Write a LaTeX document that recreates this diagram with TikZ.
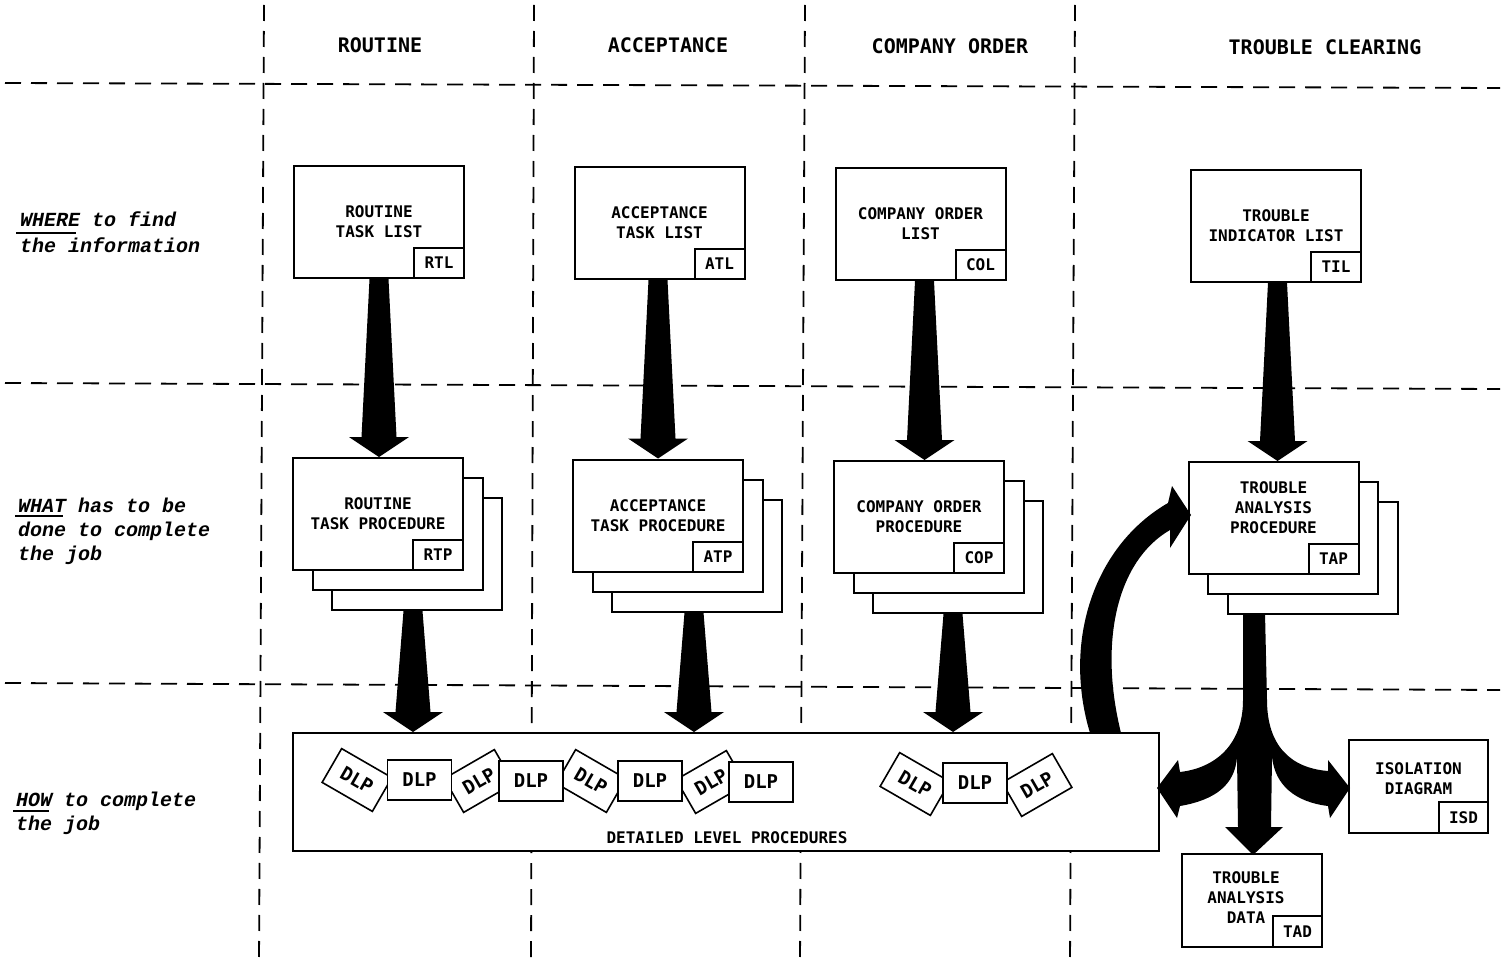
\documentclass[tikz,border=0pt]{standalone}
\usepackage{fontspec}
\setmonofont{DejaVu Sans Mono}
\newfontfamily\sidefont{Liberation Mono}
\usetikzlibrary{calc}
\tikzset{
  box/.style={draw, line width=2pt, fill=white, inner sep=0pt},
  lbl/.style={font=\ttfamily\bfseries\fontsize{16}{20}\selectfont, align=center, inner sep=0pt},
  tagbox/.style={draw, line width=2pt, fill=white, minimum width=50pt, minimum height=30pt, inner sep=0pt, anchor=south east, font=\ttfamily\bfseries\fontsize{16}{20}\selectfont},
  listbox/.style={box, lbl, minimum width=170pt, minimum height=112pt},
  procbox/.style={box, minimum width=170pt, minimum height=112pt},
  colhead/.style={font=\ttfamily\bfseries\fontsize{20}{24}\selectfont, inner sep=0pt},
  side/.style={font=\sidefont\bfseries\itshape\fontsize{20}{24}\selectfont, anchor=base west, inner sep=0pt},
  grid/.style={line width=1.8pt, dash pattern=on 16pt off 10pt},
  dlpbox/.style={draw, line width=1.6pt, fill=white, minimum width=64pt, minimum height=40pt, inner sep=0pt, font=\ttfamily\bfseries\fontsize{19}{22}\selectfont},
  dlptilt/.style={dlpbox, minimum width=58pt, minimum height=39pt},
  uline/.style={line width=2pt},
}
\newcommand\fatarrow[2]{\fill let \p1=#1, \p2=#2 in
  (\x1-9.5pt,\y1) -- (\x1-17.5pt,\y2+20pt) -- (\x1-30pt,\y2+20pt) -- (\x1,\y2) --
  (\x1+30pt,\y2+20pt) -- (\x1+17.5pt,\y2+20pt) -- (\x1+9.5pt,\y1) -- cycle;}
\newcommand\procstack[3]{%
  \node[procbox] (#1c) at (#2+39,#3+40) {};
  \node[procbox] (#1b) at (#2+19.5,#3+20) {};
  \node[procbox] (#1) at (#2,#3) {};}
\begin{document}
\begin{tikzpicture}[x=1pt,y=-1pt]
\useasboundingbox (0,0) rectangle (1504,963);
% grid lines
\draw[grid] (264,5) -- (259,963);
\draw[grid] (534,5) -- (531,963);
\draw[grid] (805,5) -- (800,963);
\draw[grid] (1075,5) -- (1070,963);
\draw[grid] (5,83) -- (1500,88);
\draw[grid] (5,383) -- (1500,389);
\draw[grid] (5,683) -- (1500,690);
% column heads
\node[colhead] (h1) at (380,45) {ROUTINE};
\node[colhead] (h2) at (668,45) {ACCEPTANCE};
\node[colhead] (h3) at (950,46) {COMPANY ORDER};
\node[colhead] (h4) at (1325,47) {TROUBLE CLEARING};
% side labels
\node[side] (w1) at (20,226) {WHERE to find};
\node[side] (w2) at (20,252) {the information};
\draw[uline] (16,233) -- (76,233);
\node[side] (t1) at (18,512) {WHAT has to be};
\node[side] (t2) at (18,536) {done to complete};
\node[side] (t3) at (18,560) {the job};
\draw[uline] (15,516) -- (63,516);
\node[side] (o1) at (16,806) {HOW to complete};
\node[side] (o2) at (16,830) {the job};
\draw[uline] (13,811) -- (49,811);
% list boxes
\node[listbox] (rtl) at (379,222) {ROUTINE\\TASK LIST};
\node[tagbox] at (rtl.south east) {RTL};
\node[listbox] (atl) at (659.5,223) {ACCEPTANCE\\TASK LIST};
\node[tagbox] at (atl.south east) {ATL};
\node[listbox] (col) at (920.5,224) {COMPANY ORDER\\LIST};
\node[tagbox] at (col.south east) {COL};
\node[listbox] (til) at (1276,225.5) {TROUBLE\\INDICATOR LIST};
\node[tagbox] at (til.south east) {TIL};
% procedure stacks
\procstack{rtp}{378}{514}
\node[lbl] at (rtp.center) {ROUTINE\\TASK PROCEDURE};
\node[tagbox] at (rtp.south east) {RTP};
\procstack{atp}{658}{515.5}
\node[lbl] at (atp.center) {ACCEPTANCE\\TASK PROCEDURE};
\node[tagbox] at (atp.south east) {ATP};
\procstack{cop}{919}{517}
\node[lbl] at (cop.center) {COMPANY ORDER\\PROCEDURE};
\node[tagbox] at (cop.south east) {COP};
\procstack{tap}{1273.5}{518}
\node[lbl] at ($(tap.center)+(0,-10)$) {TROUBLE\\ANALYSIS\\PROCEDURE};
\node[tagbox] at (tap.south east) {TAP};
% detailed level procedures
\node[box, minimum width=866pt, minimum height=118pt] (dlp) at (726,792) {};
\node[lbl] (dlplbl) at (727,838) {DETAILED LEVEL PROCEDURES};
\node[dlptilt, rotate=-30] (d1) at (357,780) {DLP};
\node[dlptilt, rotate=30] (d3) at (479,781) {DLP};
\node[dlptilt, rotate=-30] (d5) at (591,781) {DLP};
\node[dlptilt, rotate=30] (d7) at (711,782) {DLP};
\node[dlptilt, rotate=-30] (d9) at (915,784) {DLP};
\node[dlptilt, rotate=30] (d11) at (1037,785) {DLP};
\node[dlpbox] (d2) at (419.5,780) {DLP};
\node[dlpbox] (d4) at (531,781) {DLP};
\node[dlpbox] (d6) at (650,781) {DLP};
\node[dlpbox] (d8) at (761,782) {DLP};
\node[dlpbox] (d10) at (975,783) {DLP};
% isolation diagram, trouble analysis data
\node[box, minimum width=139pt, minimum height=93pt] (isd) at (1418.5,786.5) {};
\node[lbl] at ($(isd.center)+(0,-8)$) {ISOLATION\\DIAGRAM};
\node[tagbox, minimum width=49pt, minimum height=31pt] at (isd.south east) {ISD};
\node[box, minimum width=140pt, minimum height=93pt] (tad) at (1252,900.5) {};
\node[lbl] at ($(tad.center)+(-6,-3)$) {TROUBLE\\ANALYSIS\\DATA};
\node[tagbox, minimum width=49pt, minimum height=31pt] at (tad.south east) {TAD};
% straight fat arrows
\fatarrow{(rtl.south)}{(rtp.north)}
\fatarrow{($(atl.south)+(-1.5,0)$)}{(atp.north)}
\fatarrow{($(col.south)+(4,0)$)}{(cop.north)}
\fatarrow{($(til.south)+(1.5,0)$)}{(tap.north)}
\fatarrow{($(rtpc.south)+(-4,0)$)}{(dlp.north)}
\fatarrow{($(atpc.south)+(-3,0)$)}{(dlp.north)}
\fatarrow{($(copc.south)+(-5,0)$)}{(dlp.north)}
% curved arrow from DLP up to TAP
\fill (1090,733) .. controls (1062,640) and (1095,545) .. (1168,503)
  -- (1172,486) -- (1191,515) -- (1170,548) -- (1170,530)
  .. controls (1118,560) and (1098,640) .. (1121,733) -- cycle;
% branching arrow from TAP
\fill (1243,613) -- (1243,700) .. controls (1243,745) and (1215,768) .. (1180,772)
  -- (1178,760) -- (1157,788) -- (1177,818) -- (1180,806)
  .. controls (1215,800) and (1235,785) .. (1237,757)
  -- (1238,827) -- (1225,827) -- (1253,855) -- (1283,827) -- (1271,827) -- (1272,757)
  .. controls (1275,785) and (1295,802) .. (1328,806)
  -- (1330,818) -- (1350,788) -- (1328,760) -- (1328,771)
  .. controls (1290,768) and (1267,745) .. (1267,700) -- (1265,613) -- cycle;
\end{tikzpicture}
\end{document}
